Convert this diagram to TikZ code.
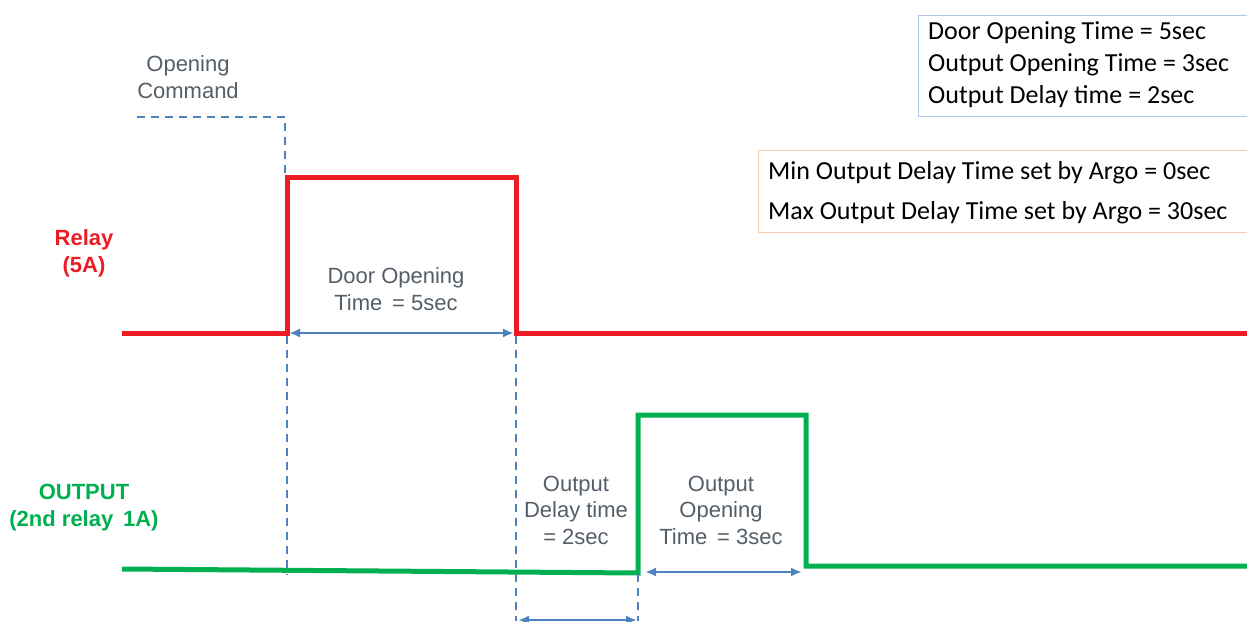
\documentclass[tikz,border=0pt]{standalone}
\usepackage{fontspec}
\setmainfont{Liberation Sans}
\newfontfamily\calib{Carlito}
\usetikzlibrary{arrows.meta}
\definecolor{sigred}{RGB}{237,28,36}
\definecolor{siggreen}{RGB}{0,176,80}
\definecolor{dashblue}{RGB}{79,129,189}
\definecolor{labgray}{RGB}{84,94,104}
\definecolor{boxblue}{RGB}{180,199,231}
\definecolor{boxorange}{RGB}{248,203,173}
\tikzset{
  x=1pt, y=-1pt,
  relaysig/.style={draw=sigred, line width=5pt},
  outsig/.style={draw=siggreen, line width=5pt},
  guide/.style={draw=dashblue, line width=2.8pt, dash pattern=on 8pt off 6pt},
  span/.style={draw=dashblue, line width=2.4pt, {Latex[length=11pt,width=9pt]}-{Latex[length=11pt,width=9pt]}},
  lab/.style={text=labgray, font=\fontsize{22}{26.5}\selectfont, align=center, inner sep=0pt},
  sig/.style={font=\fontsize{22}{27}\selectfont\bfseries, align=center, inner sep=0pt},
  info/.style={font=\calib\fontsize{26}{32}\selectfont, anchor=base west, inner sep=0pt}
}
\begin{document}
\begin{tikzpicture}
\useasboundingbox (0,0) rectangle (1247,621);
% signals
\draw[relaysig] (122,333) -- (287,333) -- (287,177) -- (516,177) -- (516,333) -- (1247,333);
\draw[outsig] (122,569) -- (638,573) -- (638,415) -- (806,415) -- (806,566) -- (1247,566);
% opening command
\coordinate (oc0) at (137,117);
\coordinate (oc1) at (285,117);
\coordinate (oc2) at (285,175);
\draw[guide] (oc0) -- (oc1) -- (oc2);
% guide lines
\coordinate (g1t) at (287,336); \coordinate (g1b) at (287,575);
\coordinate (g2t) at (516,336); \coordinate (g2b) at (516,621);
\coordinate (g3t) at (638,574); \coordinate (g3b) at (638,621);
\draw[guide] (g1t) -- (g1b);
\draw[guide] (g2t) -- (g2b);
\draw[guide] (g3t) -- (g3b);
% spans
\coordinate (a1) at (289,333); \coordinate (a2) at (514,333);
\draw[span] (a1) -- (a2);
\coordinate (b1) at (645,572); \coordinate (b2) at (802,572);
\draw[span] (b1) -- (b2);
\coordinate (c1) at (518,620); \coordinate (c2) at (637,620);
\draw[span] (c1) -- (c2);
% labels
\node[lab] (opencmd) at (188,77) {Opening\\Command};
\node[lab] (doortime) at (396,289) {Door Opening\\Time\, = 5sec};
\node[lab] (delaytime) at (576,510) {Output\\Delay time\\= 2sec};
\node[lab] (outopen) at (721,510) {Output\\Opening\\Time\, = 3sec};
\node[sig, text=sigred] (relay) at (84,253) {Relay\\(5A)};
\node[sig, text=siggreen] (output) at (84,508) {OUTPUT\\(2nd relay\, 1A)};
% info boxes
\draw[boxblue, line width=1pt] (1247,15) -- (918,15) -- (918,116) -- (1247,116);
\node[info] (info1a) at (928,39) {Door Opening Time = 5sec};
\node[info] (info1b) at (928,71) {Output Opening Time = 3sec};
\node[info] (info1c) at (928,103) {Output Delay time = 2sec};
\draw[boxorange, line width=1pt] (1247,150) -- (758,150) -- (758,232) -- (1247,232);
\node[info] (info2a) at (768,179) {Min Output Delay Time set by Argo = 0sec};
\node[info] (info2b) at (768,219) {Max Output Delay Time set by Argo = 30sec};
\end{tikzpicture}
\end{document}
